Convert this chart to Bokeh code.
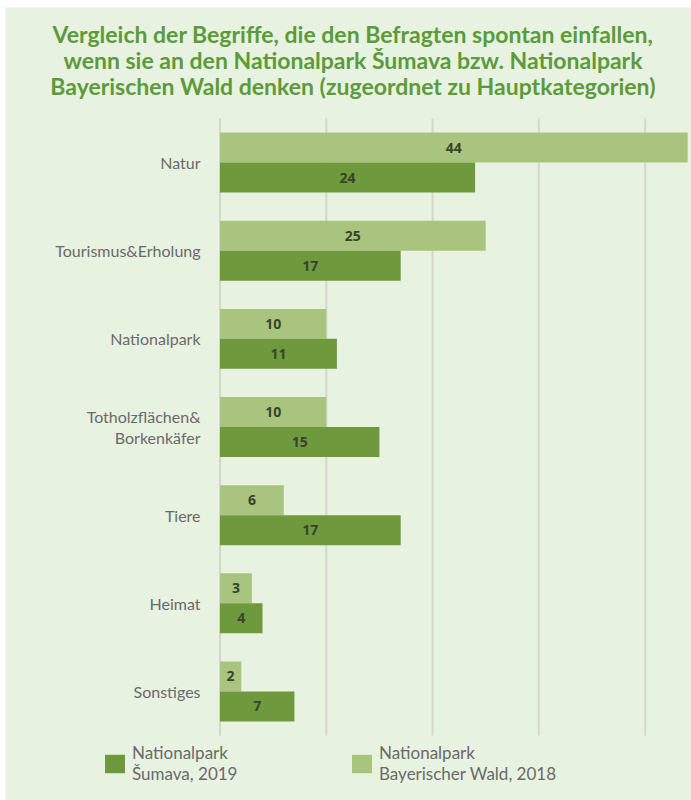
from bokeh.plotting import figure
from bokeh.models import ColumnDataSource, Range1d, Label, Legend, LegendItem
from bokeh.core.properties import value
from bokeh.embed import file_html
from bokeh.resources import INLINE

categories = ["Natur", "Tourismus&Erholung", "Nationalpark", "Totholzflächen&\nBorkenkäfer",
              "Tiere", "Heimat", "Sonstiges"]
sumava_2019 = [24, 17, 11, 15, 17, 4, 7]
bayerwald_2018 = [44, 25, 10, 10, 6, 3, 2]
x_ticks = [0, 10, 20, 30, 40]
series_names = ["Nationalpark\nŠumava, 2019", "Nationalpark\nBayerischer Wald, 2018"]
title_lines = [
    "Vergleich der Begriffe, die den Befragten spontan einfallen,",
    "wenn sie an den Nationalpark Šumava bzw. Nationalpark",
    "Bayerischen Wald denken (zugeordnet zu Hauptkategorien)",
]

BG = "#e8f2e0"
DARK = "#6e9a3d"
LIGHT = "#a9c47f"
TITLE_C = "#5c9a3b"
TEXT_C = "#6a6a6a"
VAL_C = "#36452b"
GRID_C = "#d3d8cc"

n = len(categories)
OFF = 0.17
H = 0.34
ypos = [n - 0.5 - i for i in range(n)]

src = ColumnDataSource(dict(
    cat=categories,
    y_b=[y + OFF for y in ypos],
    y_s=[y - OFF for y in ypos],
    s=sumava_2019,
    b=bayerwald_2018,
    s_mid=[v / 2 for v in sumava_2019],
    b_mid=[v / 2 for v in bayerwald_2018],
    s_txt=[str(v) for v in sumava_2019],
    b_txt=[str(v) for v in bayerwald_2018],
    lab_x=[-1.83] * n,
    lab_y=ypos,
))

p = figure(width=691, height=800,
           x_range=Range1d(-20.18, 44.36), y_range=Range1d(-0.737, 8.259),
           x_axis_location=None, y_axis_location=None,
           output_backend="svg", toolbar_location=None,
           min_border_left=5, min_border_top=7, min_border_right=0, min_border_bottom=0,
           background_fill_color=BG, border_fill_color="white",
           outline_line_color=None)
p.xgrid.visible = False
p.ygrid.visible = False

# vertical grid lines
p.segment(x0=x_ticks, y0=[0] * len(x_ticks), x1=x_ticks, y1=[n] * len(x_ticks),
          line_color=GRID_C, line_width=2)

r_b = p.hbar(y="y_b", left=0, right="b", height=H,
             fill_color=LIGHT, line_color=None, source=src)
r_s = p.hbar(y="y_s", left=0, right="s", height=H,
             fill_color=DARK, line_color=None, source=src)

p.text(x="b_mid", y="y_b", text="b_txt", source=src,
       text_align="center", text_baseline="middle", text_font=value("Open Sans"),
       text_font_style="bold", text_font_size="14px", text_color=VAL_C)
p.text(x="s_mid", y="y_s", text="s_txt", source=src,
       text_align="center", text_baseline="middle", text_font=value("Open Sans"),
       text_font_style="bold", text_font_size="14px", text_color=VAL_C)

# category labels
p.text(x="lab_x", y="lab_y", text="cat", source=src,
       text_align="right", text_baseline="middle", text_font=value("Lato"),
       text_font_size="16px", text_color=TEXT_C, text_line_height=1.15)

legend = Legend(items=[LegendItem(label=series_names[0], renderers=[r_s]),
                       LegendItem(label=series_names[1], renderers=[r_b])],
                location=(97, 16), orientation="horizontal",
                glyph_width=25, glyph_height=23, label_standoff=5, spacing=0,
                label_width=217, padding=0, margin=0,
                border_line_color=None, background_fill_alpha=0,
                label_text_font="Lato", label_text_font_size="17px",
                label_text_color=TEXT_C)
p.add_layout(legend)

for line, yy in zip(title_lines, [7.955, 7.660, 7.365]):
    p.add_layout(Label(x=12.51, y=yy, text=line,
                       text_align="center", text_baseline="alphabetic",
                       text_font="Lato", text_font_style="bold",
                       text_font_size="23px", text_color=TITLE_C))

open("out.html", "w").write(file_html(p, INLINE))
